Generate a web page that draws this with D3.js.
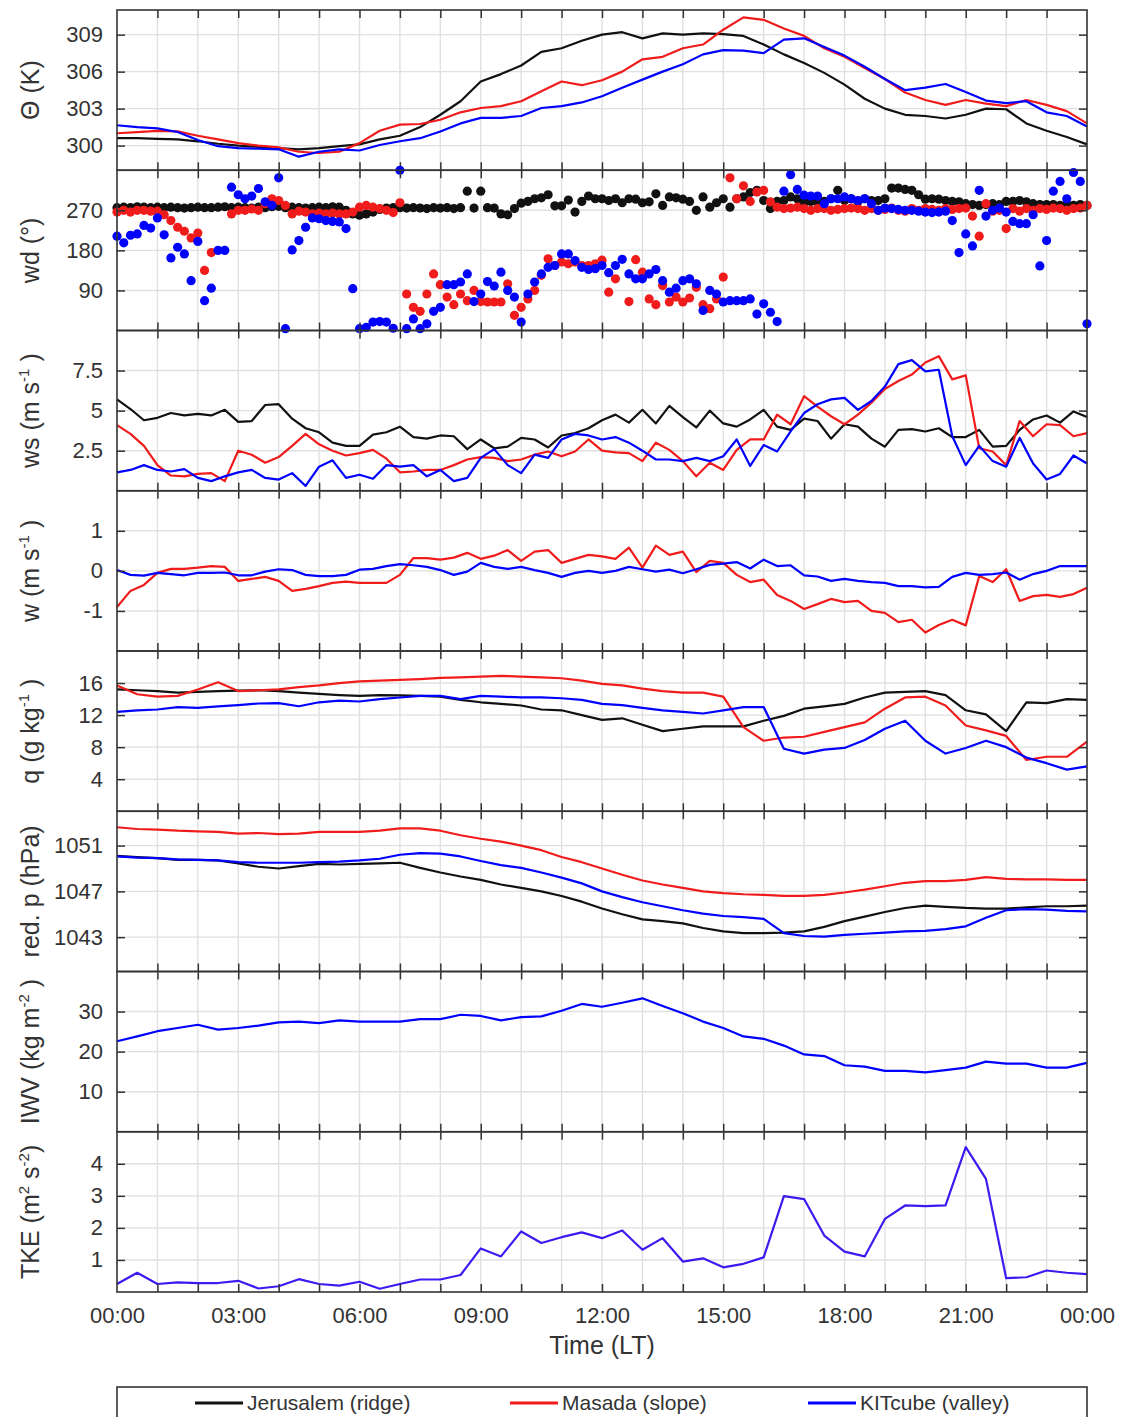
<!DOCTYPE html>
<html><head><meta charset="utf-8">
<script src="https://cdn.jsdelivr.net/npm/d3@7"></script>
<style>
body{margin:0;background:#fff}
svg{display:block}
text{font-family:"Liberation Sans",Arial,Helvetica,sans-serif;fill:#333}
</style>
</head><body>
<svg id="c" width="1124" height="1417"></svg>
<script>
// ---------- DATA ----------
const stations = ['Jerusalem (ridge)', 'Masada (slope)', 'KITcube (valley)'];
const xTickLabels = ['00:00','03:00','06:00','09:00','12:00','15:00','18:00','21:00','00:00'];

// potential temperature (K), 30-min
const thetaJ = [300.6,300.6,300.55,300.5,300.35,300.15,300.0,299.9,299.8,299.7,
 299.8,299.95,300.1,300.5,300.8,301.5,302.5,303.6,305.2,305.8,
 306.5,307.6,307.9,308.5,309.0,309.2,308.7,309.1,309.0,309.1,
 309.05,308.9,308.2,307.4,306.7,305.9,304.95,303.8,303.0,302.5,
 302.4,302.2,302.5,303.0,302.95,301.8,301.2,300.7,300.1];
const thetaM = [301.0,301.1,301.2,301.15,300.8,300.5,300.2,300.0,299.85,299.5,
 299.4,299.5,300.2,301.2,301.7,301.75,302.1,302.7,303.05,303.2,
 303.6,304.4,305.2,304.9,305.3,306.0,307.0,307.2,307.9,308.2,
 309.4,310.4,310.2,309.5,308.9,307.9,307.2,306.3,305.4,304.3,
 303.7,303.3,303.7,303.4,303.2,303.7,303.3,302.8,301.8];
const thetaK = [301.65,301.5,301.4,301.1,300.45,299.95,299.8,299.75,299.7,299.1,
 299.5,299.7,299.6,300.05,300.35,300.6,301.15,301.8,302.25,302.25,
 302.4,303.05,303.2,303.5,304.0,304.7,305.35,306.0,306.6,307.4,
 307.75,307.7,307.5,308.6,308.7,308.0,307.3,306.4,305.4,304.5,
 304.7,305.0,304.35,303.65,303.45,303.6,302.7,302.4,301.55];

// wind direction (deg), 10-min (null = missing)
const wdJ = [276,277,276,278,277,276, 277,276,277,276,275,276, 277,276,276,277,278,276,
 277,276,275,277,276,278, 279,276,277,276,275,276, 277,276,278,277,270,262,
 259,262,266,272,275,276, 276,275,276,275,274,276, 275,276,274,276,313,275,
 313,276,275,262,260,274, 286,290,296,298,305,280, 280,293,266,290,302,296,
 296,292,296,287,296,295, 287,289,307,281,300,298, 295,290,270,300,277,287,
 296,277,296,300,310,315, 292,274,290,292,300,296, 287,290,289,290,296,315,
 292,296,290,296,292,292, 296,320,320,317,315,305, 295,296,295,292,290,289,
 285,283,281,283,285,283, 290,290,292,289,285,283, 283,283,281,283,281,283, 281];
const wdM = [266,270,266,270,270,268, 268,260,247,232,223,208, 219,135,175,null,null,262,
 270,270,273,270,285,296, 292,281,262,268,266,262, 264,262,264,262,262,266,
 277,281,277,274,270,265, 287,82,52,43,82,127, 103,75,58,82,67,90,
 65,64,64,64,105,34, 52,71,90,124,161,146, 154,150,154,146,146,150,
 158,86,116,null,65,159, 131,71,58,101,64,75, 64,73,97,58,49,71,
 120,343,296,325,290,311, 315,289,277,274,275,277, 274,270,274,274,270,272,
 274,275,274,270,274,270, 272,275,270,268,274,270, 274,272,270,274,272,274,
 275,257,212,285,268,270, 229,274,268,274,270,274, 272,275,274,270,274,275, 281];
const wdK = [212,197,214,217,236,230, 253,215,163,187,172,112, 200,67,95,180,180,322,
 305,296,302,319,289,281, 343,4,181,202,232,253, 251,247,245,244,229,94,
 4,7,19,20,19,5, 360,4,26,4,15,43, 52,103,103,109,127,65,
 82,110,100,131,90,75, 19,82,109,127,142,146, 172,172,157,142,137,139,
 146,130,146,160,127,116, 116,127,137,112,86,95, 112,116,105,45,90,82,
 64,67,67,67,71,37, 60,41,20,313,350,317, 304,302,302,285,296,296,
 300,296,292,296,285,270, 275,274,272,270,270,268, 266,265,266,268,247,175,
 217,190,315,257,270,275, 266,245,240,240,260,145, 202,313,335,296,355,335, 15];

// wind speed (m/s), 20-min
const wsJ = [5.7,5.1,4.4, 4.55,4.85,4.7, 4.8,4.7,5.05, 4.3,4.35,5.35, 5.4,4.5,3.9,
 3.65,3.0,2.8, 2.8,3.5,3.65, 4.0,3.35,3.25, 3.45,3.4,2.6, 3.2,2.65,2.75,
 3.3,3.2,2.7, 3.45,3.6,3.9, 4.4,4.75,4.25, 5.05,4.2,5.3, 4.6,3.95,5.0,
 4.2,4.0,4.45, 5.05,4.0,3.8, 4.5,4.35,3.25, 4.15,4.0,3.25, 2.75,3.8,3.85,
 3.7,3.9,3.35, 3.35,3.8,2.75, 2.8,3.8,4.45, 4.7,4.25,4.95, 4.6];
const wsM = [4.1,3.55,2.8, 1.6,0.95,0.9, 1.05,1.1,0.6, 2.5,2.25,1.75, 2.1,2.8,3.55,
 2.9,2.5,2.2, 2.35,2.55,2.0, 1.15,1.2,1.3, 1.3,1.6,1.95, 2.1,2.05,1.85,
 1.95,2.25,2.45, 2.15,2.45,3.2, 2.5,2.4,2.35, 1.85,3.0,2.55, 1.85,0.9,1.75,
 1.3,2.55,3.2, 3.2,4.75,4.15, 5.9,5.25,4.65, 4.15,4.75,5.5, 6.35,6.85,7.25,
 8.0,8.4,6.95, 7.2,2.65,2.45, 1.6,4.35,3.4, 4.15,4.1,3.4, 3.6];
const wsK = [1.15,1.3,1.6, 1.3,1.2,1.35, 0.8,0.6,0.9, 1.15,1.3,0.8, 0.7,1.1,0.3,
 1.5,1.9,0.8, 1.0,0.75,1.6, 1.5,1.6,0.9, 1.3,0.6,0.8, 2.05,2.6,1.6,
 1.1,2.25,2.05, 3.2,3.55,3.45, 3.2,3.35,3.0, 2.5,1.95,1.95, 1.85,2.05,1.85,
 2.15,3.2,1.55, 2.85,2.45,3.7, 4.85,5.4,5.7, 5.8,5.05,5.6, 6.5,7.9,8.15,
 7.45,7.55,3.4, 1.6,2.8,1.85, 1.5,3.3,1.7, 0.7,1.05,2.2, 1.7];

// vertical wind (m/s), 20-min
const wM = [-0.9,-0.5,-0.35, -0.05,0.05,0.05, 0.08,0.12,0.1, -0.25,-0.2,-0.15, -0.25,-0.5,-0.45,
 -0.38,-0.3,-0.27, -0.3,-0.3,-0.3, -0.1,0.32,0.32, 0.28,0.33,0.45, 0.3,0.38,0.52,
 0.25,0.48,0.52, 0.2,0.3,0.4, 0.36,0.3,0.58, 0.08,0.63,0.4, 0.48,-0.03,0.25,
 0.2,-0.1,-0.28, -0.22,-0.6,-0.75, -0.95,-0.83,-0.7, -0.78,-0.75,-1.0, -1.05,-1.28,-1.22,
 -1.54,-1.35,-1.22, -1.36,-0.13,-0.28, 0.04,-0.75,-0.63, -0.6,-0.65,-0.58, -0.42];
const wK = [0.02,-0.1,-0.12, -0.05,-0.08,-0.11, -0.05,-0.05,-0.04, -0.11,-0.11,-0.02, 0.04,0.02,-0.1,
 -0.13,-0.13,-0.1, 0.03,0.05,0.12, 0.17,0.14,0.1, 0.02,-0.1,-0.02, 0.2,0.1,0.05,
 0.1,0.02,-0.05, -0.15,-0.05,0.0, -0.05,0.0,0.1, 0.04,-0.02,0.03, -0.06,0.04,0.15,
 0.18,0.22,0.06, 0.28,0.12,0.14, -0.11,-0.14,-0.25, -0.2,-0.25,-0.28, -0.3,-0.38,-0.38,
 -0.41,-0.4,-0.15, -0.05,-0.1,-0.08, -0.04,-0.22,-0.08, 0.0,0.12,0.12, 0.12];

// specific humidity (g/kg), 30-min
const qJ = [15.2,15.1,15.0,14.8,14.9,15.0,15.05,15.1,15.0,14.8,
 14.65,14.5,14.4,14.5,14.45,14.4,14.3,13.9,13.6,13.4,
 13.2,12.7,12.6,12.0,11.4,11.6,10.8,10.0,10.3,10.6,
 10.6,10.6,11.3,11.9,12.8,13.1,13.4,14.2,14.8,14.9,
 15.0,14.5,12.6,12.1,10.0,13.6,13.5,14.0,13.9];
const qM = [15.7,14.6,14.3,14.4,15.2,16.1,15.0,15.1,15.2,15.5,
 15.7,16.0,16.2,16.3,16.4,16.5,16.65,16.7,16.8,16.9,
 16.8,16.7,16.6,16.3,15.9,15.7,15.3,15.0,14.8,14.8,
 14.3,10.5,8.8,9.2,9.3,9.9,10.5,11.1,12.8,14.2,
 14.3,13.2,10.7,10.1,9.4,6.4,6.8,6.8,8.7];
const qK = [12.4,12.6,12.7,13.0,12.9,13.1,13.25,13.45,13.5,13.1,
 13.6,13.8,13.7,14.0,14.2,14.4,14.4,14.0,14.4,14.3,
 14.2,14.2,14.1,13.9,13.4,13.25,12.9,12.6,12.4,12.2,
 12.6,13.0,13.0,7.8,7.2,7.7,7.9,8.9,10.3,11.3,
 8.8,7.2,7.9,8.8,8.0,6.7,6.0,5.2,5.6];

// reduced pressure (hPa), 30-min
const pJ = [1050.1,1050.0,1049.9,1049.75,1049.75,1049.7,1049.45,1049.15,1049.0,1049.2,
 1049.4,1049.35,1049.4,1049.45,1049.5,1049.05,1048.65,1048.3,1048.0,1047.6,
 1047.3,1047.0,1046.6,1046.1,1045.5,1045.0,1044.55,1044.4,1044.2,1043.8,
 1043.5,1043.35,1043.35,1043.4,1043.5,1043.9,1044.4,1044.8,1045.2,1045.55,
 1045.75,1045.65,1045.55,1045.5,1045.5,1045.6,1045.7,1045.7,1045.75];
const pM = [1052.6,1052.45,1052.4,1052.3,1052.25,1052.2,1052.05,1052.1,1052.0,1052.05,
 1052.2,1052.2,1052.2,1052.3,1052.5,1052.5,1052.3,1051.9,1051.6,1051.35,
 1051.0,1050.6,1050.0,1049.55,1049.0,1048.45,1047.95,1047.6,1047.3,1047.0,
 1046.85,1046.75,1046.7,1046.6,1046.6,1046.7,1046.9,1047.15,1047.45,1047.75,
 1047.9,1047.9,1048.0,1048.25,1048.1,1048.05,1048.05,1048.0,1048.0];
const pK = [1050.05,1049.95,1049.9,1049.8,1049.75,1049.7,1049.55,1049.5,1049.5,1049.5,
 1049.55,1049.6,1049.7,1049.85,1050.2,1050.35,1050.3,1050.05,1049.65,1049.3,
 1049.05,1048.65,1048.2,1047.7,1047.0,1046.5,1046.05,1045.7,1045.35,1045.05,
 1044.85,1044.75,1044.6,1043.35,1043.1,1043.05,1043.2,1043.3,1043.4,1043.5,
 1043.55,1043.7,1043.95,1044.7,1045.35,1045.45,1045.4,1045.3,1045.25];

// integrated water vapour (kg/m2), 30-min
const iwvK = [22.6,23.8,25.1,25.9,26.7,25.5,25.9,26.5,27.3,27.5,
 27.1,27.8,27.5,27.5,27.5,28.1,28.1,29.2,28.9,27.8,
 28.6,28.8,30.2,31.9,31.2,32.2,33.3,31.4,29.6,27.5,
 25.9,23.8,23.2,21.5,19.3,18.9,16.6,16.25,15.2,15.2,
 14.8,15.4,16.0,17.5,17.0,17.0,16.0,16.0,17.2];

// turbulent kinetic energy (m2/s2), 30-min
const tkeK = [0.25,0.6,0.25,0.3,0.28,0.28,0.35,0.11,0.18,0.4,
 0.25,0.2,0.32,0.1,0.25,0.39,0.39,0.53,1.36,1.11,
 1.89,1.53,1.71,1.86,1.68,1.92,1.32,1.68,0.95,1.05,
 0.77,0.88,1.08,2.99,2.9,1.76,1.26,1.11,2.28,2.7,
 2.68,2.7,4.52,3.53,0.43,0.46,0.67,0.6,0.56];

// time grids (hours)
const t30 = d3.range(49).map(i => i * 0.5);
const t20 = d3.range(73).map(i => i / 3);
const t10 = d3.range(145).map(i => i / 6);

// ---------- DRAW ----------
const COLJ = '#111111', COLM = '#f01c1c', COLK = '#0000ff', COLT = '#3a1cf0';
const svg = d3.select('#c');
const L = 117, R = 1087, PT = 10, PH = 160.25;
const x = d3.scaleLinear().domain([0, 24]).range([L, R]);

const panels = [
 {dom:[298,311], ticks:[300,303,306,309], title:[{t:'Θ (K)'}],
  series:[{t:t30,v:thetaJ,c:COLJ},{t:t30,v:thetaM,c:COLM},{t:t30,v:thetaK,c:COLK}]},
 {dom:[0,360], ticks:[90,180,270], title:[{t:'wd (°)'}],
  series:[{t:t10,v:wdJ,c:COLJ,dot:1},{t:t10,v:wdM,c:COLM,dot:1},{t:t10,v:wdK,c:COLK,dot:1}]},
 {dom:[0,10], ticks:[2.5,5,7.5], title:[{t:'ws (m s'},{t:'-1',sup:1},{t:' )'}],
  series:[{t:t20,v:wsJ,c:COLJ},{t:t20,v:wsM,c:COLM},{t:t20,v:wsK,c:COLK}]},
 {dom:[-2,2], ticks:[-1,0,1], title:[{t:'w (m s'},{t:'-1',sup:1},{t:' )'}],
  series:[{t:t20,v:wM,c:COLM},{t:t20,v:wK,c:COLK}]},
 {dom:[0,20], ticks:[4,8,12,16], title:[{t:'q (g kg'},{t:'-1',sup:1},{t:' )'}],
  series:[{t:t30,v:qJ,c:COLJ},{t:t30,v:qM,c:COLM},{t:t30,v:qK,c:COLK}]},
 {dom:[1040,1054], ticks:[1043,1047,1051], title:[{t:'red. p (hPa)'}],
  series:[{t:t30,v:pJ,c:COLJ},{t:t30,v:pM,c:COLM},{t:t30,v:pK,c:COLK}]},
 {dom:[0,40], ticks:[10,20,30], title:[{t:'IWV (kg m'},{t:'-2',sup:1},{t:' )'}],
  series:[{t:t30,v:iwvK,c:COLK}]},
 {dom:[0,5], ticks:[1,2,3,4], title:[{t:'TKE (m'},{t:'2',sup:1},{t:' s'},{t:'-2',sup:1},{t:')'}],
  series:[{t:t30,v:tkeK,c:COLT}]}
];

const hours = d3.range(1, 24);

panels.forEach((p, i) => {
  const top = PT + i * PH, bot = top + PH;
  const y = d3.scaleLinear().domain(p.dom).range([bot, top]);
  const g = svg.append('g');

  // grid
  g.append('g').selectAll('line').data(hours).join('line')
    .attr('x1', d => x(d)).attr('x2', d => x(d)).attr('y1', top).attr('y2', bot)
    .attr('stroke', '#e0e0e0').attr('stroke-width', 1.4);
  g.append('g').selectAll('line').data(p.ticks).join('line')
    .attr('x1', L).attr('x2', R).attr('y1', d => y(d)).attr('y2', d => y(d))
    .attr('stroke', '#e0e0e0').attr('stroke-width', 1.4);

  // data
  p.series.forEach(s => {
    const pts = s.t.map((t, j) => [t, s.v[j]]).filter(d => d[1] != null);
    if (s.dot) {
      g.append('g').selectAll('circle').data(pts).join('circle')
        .attr('cx', d => x(d[0])).attr('cy', d => y(d[1])).attr('r', 4.6).attr('fill', s.c);
    } else {
      g.append('path').datum(pts)
        .attr('d', d3.line().x(d => x(d[0])).y(d => y(d[1])))
        .attr('fill', 'none').attr('stroke', s.c).attr('stroke-width', 2.2)
        .attr('stroke-linejoin', 'round');
    }
  });

  // axes (inward ticks)
  const styleAxis = a => { a.select('.domain').remove(); a.attr('color', '#333'); a.selectAll('line').attr('stroke-width', 1.5); };
  const ax = g.append('g').attr('transform', `translate(${L},0)`)
    .call(d3.axisLeft(y).tickValues(p.ticks).tickSize(-8).tickPadding(14).tickFormat(d => d));
  styleAxis(ax);
  ax.selectAll('text').attr('font-size', 22).attr('font-family', '"Liberation Sans",Arial,sans-serif').style('fill', '#333');
  const axr = g.append('g').attr('transform', `translate(${R},0)`)
    .call(d3.axisRight(y).tickValues(p.ticks).tickSize(-8).tickFormat(''));
  styleAxis(axr);
  const axt = g.append('g').attr('transform', `translate(0,${top})`)
    .call(d3.axisTop(x).tickValues(hours).tickSize(-8).tickFormat(''));
  styleAxis(axt);
  const axb = g.append('g').attr('transform', `translate(0,${bot})`)
    .call(d3.axisBottom(x).tickValues(hours).tickSize(-8).tickFormat(''));
  styleAxis(axb);

  // frame
  g.append('rect').attr('x', L).attr('y', top).attr('width', R - L).attr('height', PH)
    .attr('fill', 'none').attr('stroke', '#333').attr('stroke-width', 1.6);

  // title
  const cy = (top + bot) / 2;
  const tt = svg.append('text').attr('transform', `translate(39,${cy}) rotate(-90)`)
    .attr('text-anchor', 'middle').attr('font-size', 25);
  let shifted = false;
  p.title.forEach(seg => {
    const ts = tt.append('tspan').text(seg.t);
    if (seg.sup) { ts.attr('font-size', 15).attr('dy', -10); shifted = true; }
    else if (shifted) { ts.attr('dy', 10); shifted = false; }
  });

  // bottom labels
  if (i === panels.length - 1) {
    const lab = g.append('g').attr('transform', `translate(0,${bot})`)
      .call(d3.axisBottom(x).tickValues(d3.range(0, 25, 3)).tickSize(0).tickPadding(15)
        .tickFormat((d, k) => xTickLabels[k]));
    lab.select('.domain').remove();
    lab.selectAll('text').attr('font-size', 22).attr('font-family', '"Liberation Sans",Arial,sans-serif').style('fill', '#333');
    svg.append('text').attr('x', (L + R) / 2).attr('y', 1354).attr('text-anchor', 'middle')
      .attr('font-size', 25).text('Time (LT)');
  }
});

// legend
const lg = svg.append('g');
lg.append('rect').attr('x', L).attr('y', 1387).attr('width', R - L).attr('height', 60)
  .attr('fill', '#fff').attr('stroke', '#333').attr('stroke-width', 1.6);
const legX = [195, 510, 808];
const legC = [COLJ, COLM, COLK];
stations.forEach((s, k) => {
  lg.append('line').attr('x1', legX[k]).attr('x2', legX[k] + 48).attr('y1', 1403).attr('y2', 1403)
    .attr('stroke', legC[k]).attr('stroke-width', 3);
  lg.append('text').attr('x', legX[k] + 52).attr('y', 1410).attr('font-size', 21).text(s);
});

// sanity
const chk = [[thetaJ,49],[thetaM,49],[thetaK,49],[wdJ,145],[wdM,145],[wdK,145],[wsJ,73],[wsM,73],[wsK,73],
 [wM,73],[wK,73],[qJ,49],[qM,49],[qK,49],[pJ,49],[pM,49],[pK,49],[iwvK,49],[tkeK,49]];
const bad = chk.map((c, k) => c[0].length !== c[1] ? k + ':' + c[0].length : null).filter(d => d);
if (bad.length) throw new Error('length mismatch ' + bad.join(','));
</script>
</body></html>
